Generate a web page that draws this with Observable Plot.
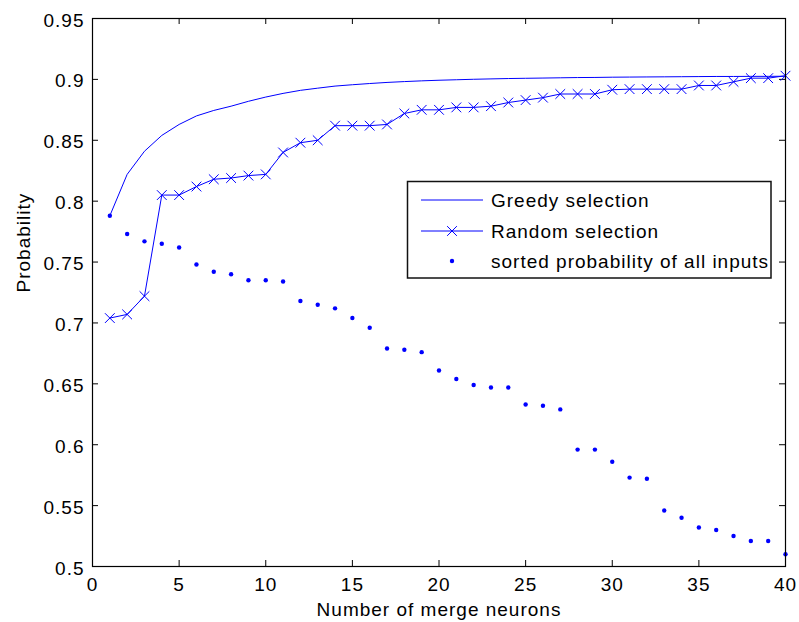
<!DOCTYPE html>
<html><head><meta charset="utf-8">
<script src="https://cdn.jsdelivr.net/npm/d3@7"></script>
<script src="https://cdn.jsdelivr.net/npm/@observablehq/plot@0.6"></script>
<style>
body{margin:0;background:#fff;}
#wrap{position:relative;width:799px;height:622px;}
#wrap svg{position:absolute;left:0;top:0;}
</style></head><body><div id="wrap"></div>
<script>
const neurons = [1,2,3,4,5,6,7,8,9,10,11,12,13,14,15,16,17,18,19,20,21,22,23,24,25,26,27,28,29,30,31,32,33,34,35,36,37,38,39,40];
const greedy = [0.788,0.822,0.841,0.854,0.863,0.870,0.8745,0.878,0.882,0.8855,0.8885,0.891,0.8928,0.8945,0.8956,0.8966,0.8975,0.8982,0.8988,0.8993,0.8997,0.9001,0.9004,0.9007,0.9009,0.9011,0.9013,0.9015,0.9016,0.9018,0.9019,0.9020,0.9021,0.9022,0.9023,0.9024,0.9024,0.9025,0.9025,0.9026];
const random = [0.704,0.707,0.722,0.805,0.805,0.812,0.818,0.819,0.821,0.822,0.840,0.848,0.850,0.862,0.862,0.862,0.863,0.872,0.875,0.875,0.877,0.877,0.878,0.881,0.883,0.885,0.888,0.888,0.888,0.8915,0.892,0.892,0.892,0.892,0.895,0.895,0.898,0.901,0.901,0.903];
const sortedAll = [0.788,0.773,0.767,0.765,0.762,0.748,0.742,0.740,0.735,0.735,0.734,0.718,0.715,0.712,0.704,0.696,0.679,0.678,0.676,0.661,0.654,0.649,0.647,0.647,0.633,0.632,0.629,0.596,0.596,0.586,0.573,0.572,0.546,0.540,0.532,0.530,0.525,0.521,0.521,0.510];
const xTicks = [0,5,10,15,20,25,30,35,40];
const yTicks = [0.5,0.55,0.6,0.65,0.7,0.75,0.8,0.85,0.9,0.95];
const seriesNames = ["Greedy selection","Random selection","sorted probability of all inputs"];
const xLabel = "Number of merge neurons";
const yLabel = "Probability";

const blue = "#0000ff";
const W = 799, H = 622, mL = 92, mR = 14, mT = 18, mB = 56;
const pw = W - mL - mR, ph = H - mT - mB, tick = 6;
const font = "'Liberation Sans', Arial, Helvetica, sans-serif";
const fs = "19px", ls = "1px";
const rows = neurons.map((n, i) => ({n, g: greedy[i], r: random[i], s: sortedAll[i]}));

const chart = Plot.plot({
  width: W, height: H,
  marginLeft: mL, marginRight: mR, marginTop: mT, marginBottom: mB,
  style: {fontFamily: font, fontSize: fs, letterSpacing: ls, color: "black", background: "white", overflow: "visible"},
  x: {domain: [0, 40]},
  y: {domain: [0.5, 0.95]},
  marks: [
    Plot.axisX({ticks: xTicks, tickSize: 0, tickPadding: 11, label: null, tickFormat: d => String(d)}),
    Plot.axisY({ticks: yTicks, tickSize: 0, tickPadding: 8, dy: 2, label: null, tickFormat: d => String(d)}),
    Plot.ruleX(xTicks, {x: d => d, insetTop: ph - tick, stroke: "black"}),
    Plot.ruleX(xTicks, {x: d => d, insetBottom: ph - tick, stroke: "black"}),
    Plot.ruleY(yTicks, {y: d => d, insetRight: pw - tick, stroke: "black"}),
    Plot.ruleY(yTicks, {y: d => d, insetLeft: pw - tick, stroke: "black"}),
    Plot.line(rows, {x: "n", y: "g", stroke: blue, strokeWidth: 1}),
    Plot.line(rows, {x: "n", y: "r", stroke: blue, strokeWidth: 1}),
    Plot.dot(rows, {x: "n", y: "r", symbol: "times", r: 4.5, stroke: blue, strokeWidth: 1}),
    Plot.dot(rows, {x: "n", y: "s", r: 2.2, fill: blue, stroke: null}),
    Plot.frame({stroke: "black", strokeWidth: 1.2}),
    Plot.text([xLabel], {frameAnchor: "bottom", dy: 36, lineAnchor: "top", text: d => d}),
    Plot.text([yLabel], {frameAnchor: "left", dx: -69, rotate: -90, text: d => d})
  ]
});
const wrap = document.getElementById("wrap");
wrap.appendChild(chart);

// Legend overlay
const lg = d3.select(wrap).append("svg")
  .attr("width", W).attr("height", H)
  .style("pointer-events", "none")
  .style("font-family", font).style("font-size", fs).style("letter-spacing", ls);
const bx = 407.5, by = 181.5, bw = 363.5, bh = 96.5;
lg.append("rect").attr("x", bx).attr("y", by).attr("width", bw).attr("height", bh)
  .attr("fill", "white").attr("stroke", "#111").attr("stroke-width", 1.5);
const rowY = [200, 231, 261];
const lx1 = 421, lx2 = 483, lmid = 452, tx = 491;
lg.append("line").attr("x1", lx1).attr("x2", lx2).attr("y1", rowY[0]).attr("y2", rowY[0]).attr("stroke", blue);
lg.append("line").attr("x1", lx1).attr("x2", lx2).attr("y1", rowY[1]).attr("y2", rowY[1]).attr("stroke", blue);
lg.append("path").attr("d", d3.symbol(d3.symbolTimes, Math.PI * 4.5 * 4.5)()).attr("transform", `translate(${lmid},${rowY[1]})`)
  .attr("fill", "none").attr("stroke", blue);
lg.append("circle").attr("cx", lmid).attr("cy", rowY[2]).attr("r", 2.2).attr("fill", blue);
seriesNames.forEach((s, i) => {
  lg.append("text").attr("x", tx).attr("y", rowY[i]).attr("dy", "0.35em").attr("fill", "black").text(s);
});
</script></body></html>
